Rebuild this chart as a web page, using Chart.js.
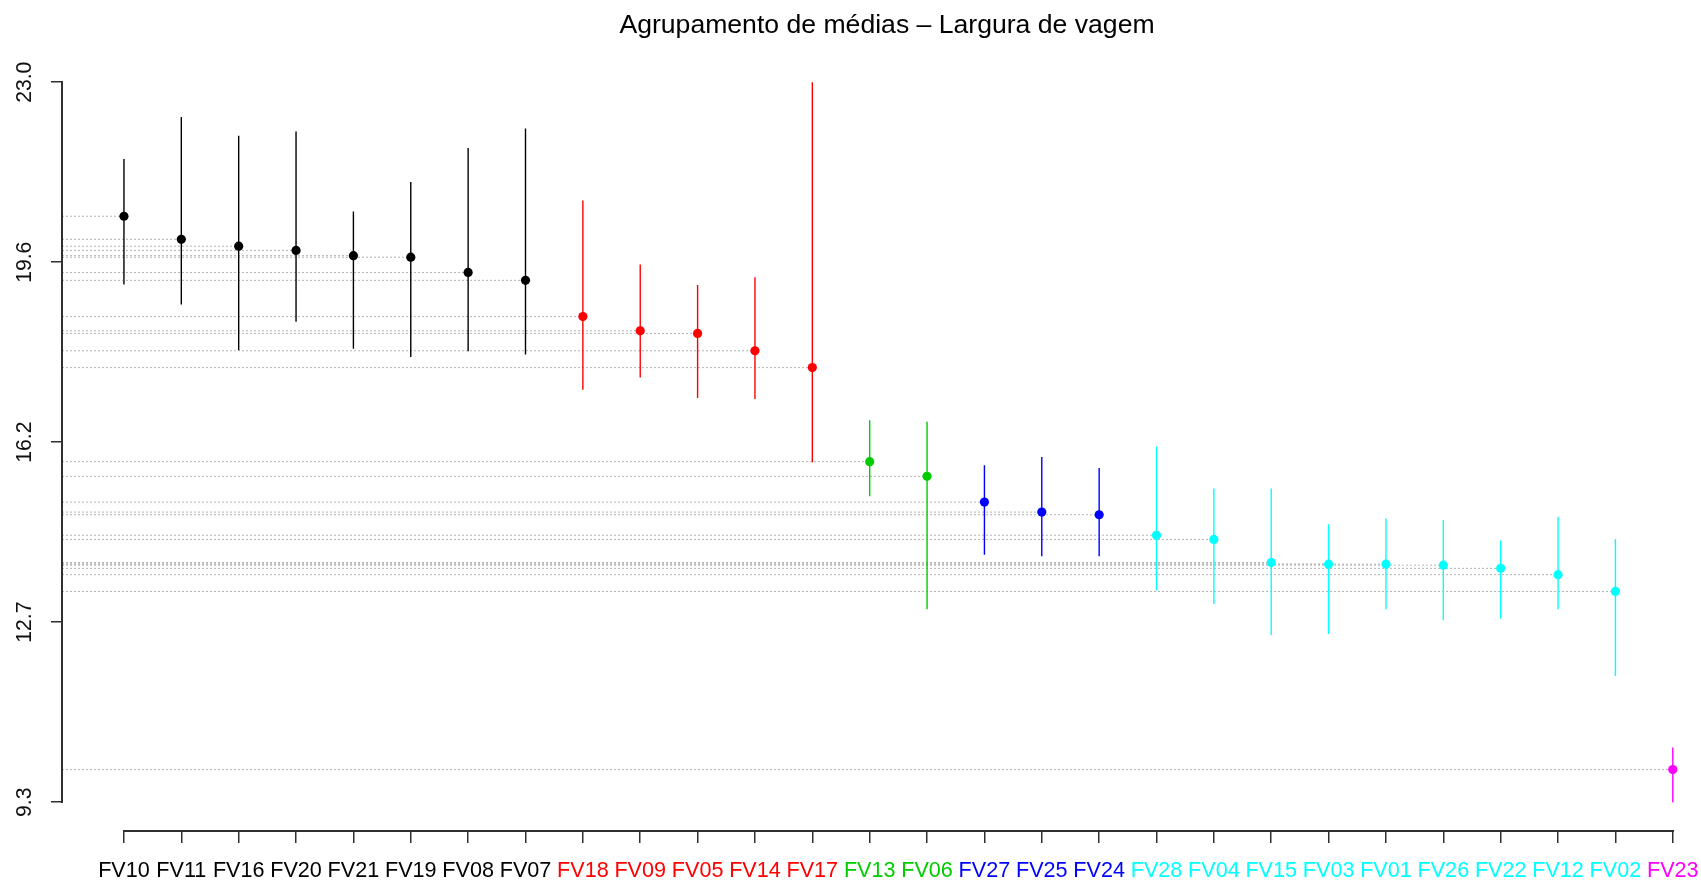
<!DOCTYPE html>
<html>
<head>
<meta charset="utf-8">
<script src="https://cdn.jsdelivr.net/npm/chart.js@4.4.1/dist/chart.umd.min.js"></script>
<style>
  html, body { margin: 0; padding: 0; background: #ffffff; overflow: hidden; }
  #wrap { width: 1701px; height: 882px; }
</style>
</head>
<body>
<div id="wrap"><canvas id="c" width="1701" height="882"></canvas></div>
<script>
// Genotypes, ordered by mean pod width
const categories = ['FV10','FV11','FV16','FV20','FV21','FV19','FV08','FV07','FV18','FV09','FV05','FV14','FV17','FV13','FV06','FV27','FV25','FV24','FV28','FV04','FV15','FV03','FV01','FV26','FV22','FV12','FV02','FV23'];

// Scott-Knott style grouping of the means
const groups = ['a','a','a','a','a','a','a','a','b','b','b','b','b','c','c','d','d','d','e','e','e','e','e','e','e','e','e','f'];

// Means and interval limits
const means = [20.45, 20.01, 19.88, 19.80, 19.70, 19.67, 19.38, 19.23, 18.54, 18.27, 18.22, 17.89, 17.57, 15.78, 15.50, 15.01, 14.82, 14.77, 14.38, 14.30, 13.86, 13.83, 13.83, 13.81, 13.75, 13.63, 13.31, 9.92];
const upper = [21.54, 22.34, 21.98, 22.06, 20.54, 21.10, 21.75, 22.12, 20.75, 19.53, 19.14, 19.29, 23.00, 16.57, 16.54, 15.71, 15.87, 15.66, 16.07, 15.27, 15.27, 14.59, 14.70, 14.67, 14.28, 14.73, 14.31, 10.34];
const lower = [19.15, 18.77, 17.90, 18.44, 17.93, 17.77, 17.88, 17.82, 17.15, 17.38, 16.99, 16.97, 15.77, 15.12, 12.97, 14.01, 13.98, 13.98, 13.33, 13.07, 12.48, 12.50, 12.97, 12.76, 12.79, 12.97, 11.70, 9.30];

// Y axis ticks: five evenly spaced values between the extremes, labelled with one decimal
const yTickValues = [9.3, 12.725, 16.15, 19.575, 23.0];
const yTickLabels = ['9.3', '12.7', '16.2', '19.6', '23.0'];

const groupColors = { a: '#000000', b: '#ff0000', c: '#00cd00', d: '#0000ff', e: '#00ffff', f: '#ff00ff' };
const colorOf = i => groupColors[groups[i]];

const FONT = "'Liberation Sans', Arial, Helvetica, sans-serif";
Chart.defaults.font.family = FONT;

// axis ranges with the usual 4% extension on each side
const yPad = (yTickValues[yTickValues.length - 1] - yTickValues[0]) * 0.04;
const xMin = -(categories.length - 1) * 0.04;
const xMax = categories.length - 1 + 0.3;

const datasets = [];

// dotted guides from the y axis to each mean
categories.forEach((c, i) => {
  datasets.push({
    type: 'line',
    data: [{ x: xMin, y: means[i] }, { x: i, y: means[i] }],
    borderColor: '#b4b4b4',
    borderWidth: 1,
    borderDash: [2, 2],
    pointRadius: 0,
    order: 3
  });
});

// interval bars
categories.forEach((c, i) => {
  datasets.push({
    type: 'line',
    data: [{ x: i, y: lower[i] }, { x: i, y: upper[i] }],
    borderColor: colorOf(i),
    borderWidth: 1.4,
    pointRadius: 0,
    order: 2
  });
});

// means
datasets.push({
  type: 'scatter',
  data: means.map((m, i) => ({ x: i, y: m })),
  pointRadius: 4.6,
  pointBorderWidth: 0,
  pointBackgroundColor: categories.map((c, i) => colorOf(i)),
  pointBorderColor: categories.map((c, i) => colorOf(i)),
  order: 1
});

// axis lines running only between the first and last ticks
const axisLines = {
  id: 'axisLines',
  afterLayout(chart) {
    // centre the title over the full plotting region, which runs past the right edge
    const t = chart.titleBlock;
    if (t) { t.left += 11; t.right += 11; }
  },
  afterDraw(chart) {
    const { ctx, chartArea, scales: { x, y } } = chart;
    ctx.save();
    ctx.fillStyle = '#303030';
    // vertical axis line
    const xl = Math.round(chartArea.left);
    const yTop = Math.round(y.getPixelForValue(yTickValues[yTickValues.length - 1]));
    const yBot = Math.round(y.getPixelForValue(yTickValues[0]));
    ctx.fillRect(xl - 1, yTop - 1, 2, yBot - yTop + 2);
    // horizontal axis line
    const yb = Math.round(x.top);
    const x0 = Math.round(x.getPixelForValue(0));
    const x1 = Math.round(x.getPixelForValue(categories.length - 1));
    ctx.fillRect(x0 - 1, yb - 1, x1 - x0 + 2, 2);
    ctx.restore();
  }
};

new Chart(document.getElementById('c'), {
  type: 'scatter',
  data: { datasets },
  plugins: [axisLines],
  options: {
    responsive: false,
    animation: false,
    devicePixelRatio: 1,
    layout: { padding: { left: 0, right: 11, top: 0, bottom: 0 } },
    plugins: {
      legend: { display: false },
      tooltip: { enabled: false },
      title: {
        display: true,
        text: 'Agrupamento de médias – Largura de vagem',
        fullSize: false,
        color: '#000000',
        font: { family: FONT, size: 26.6, weight: 'normal', lineHeight: 1.2 },
        padding: { top: 10, bottom: 11.5 }
      }
    },
    scales: {
      x: {
        type: 'linear',
        position: 'bottom',
        min: xMin,
        max: xMax,
        afterBuildTicks: s => { s.ticks = categories.map((c, i) => ({ value: i })); },
        afterFit: s => { s.height = 51; s.paddingLeft = 0; s.paddingRight = 0; },
        border: { display: false },
        grid: { drawOnChartArea: false, drawTicks: true, tickLength: 12, color: '#303030', lineWidth: 1.5 },
        ticks: {
          autoSkip: false,
          maxRotation: 0,
          minRotation: 0,
          padding: 15,
          font: { family: FONT, size: 21.6 },
          color: ctx => colorOf(ctx.tick ? ctx.tick.value : ctx.index),
          callback: v => categories[v]
        }
      },
      y: {
        type: 'linear',
        position: 'left',
        min: yTickValues[0] - yPad,
        max: yTickValues[yTickValues.length - 1] + yPad,
        afterBuildTicks: s => { s.ticks = yTickValues.map(v => ({ value: v })); },
        afterFit: s => { s.width = 62; s.paddingTop = 0; s.paddingBottom = 0; },
        border: { display: false },
        grid: { drawOnChartArea: false, drawTicks: true, tickLength: 11, color: '#303030', lineWidth: 1.5 },
        ticks: {
          minRotation: 90,
          maxRotation: 90,
          crossAlign: 'center',
          padding: 5,
          font: { family: FONT, size: 21.2 },
          color: '#111111',
          callback: (v, i) => yTickLabels[i]
        }
      }
    }
  }
});
</script>
</body>
</html>
